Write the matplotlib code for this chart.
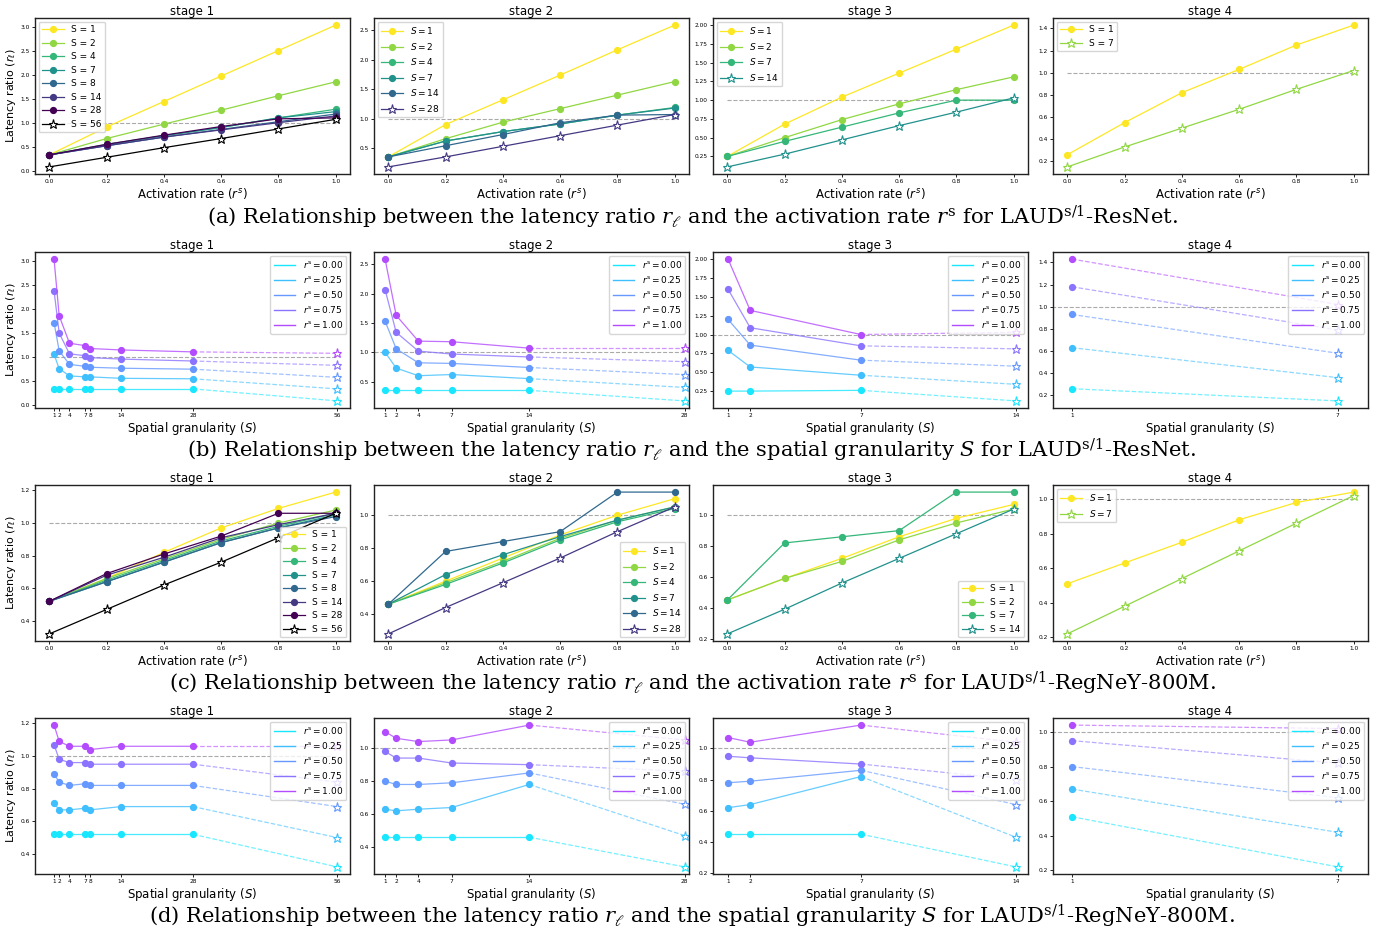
import numpy as np
import matplotlib
matplotlib.use("Agg")
import matplotlib.pyplot as plt
from matplotlib.lines import Line2D

# ---------------- data ----------------
rate_x = [0.0, 0.2, 0.4, 0.6, 0.8, 1.0]
rs_levels = [0.00, 0.25, 0.50, 0.75, 1.00]
stage_titles = ["stage 1", "stage 2", "stage 3", "stage 4"]

resnet_S = [[1, 2, 4, 7, 8, 14, 28, 56], [1, 2, 4, 7, 14, 28], [1, 2, 7, 14], [1, 7]]
regnet_S = [[1, 2, 4, 7, 8, 14, 28, 56], [1, 2, 4, 7, 14, 28], [1, 2, 7, 14], [1, 7]]

# (a) ResNet: latency ratio vs activation rate, one row per S
resnet_rate_st1 = [[0.33, 0.91, 1.44, 1.97, 2.50, 3.03],
                   [0.33, 0.67, 0.97, 1.26, 1.56, 1.85],
                   [0.33, 0.55, 0.73, 0.90, 1.10, 1.28],
                   [0.33, 0.54, 0.73, 0.90, 1.10, 1.23],
                   [0.33, 0.52, 0.70, 0.86, 1.02, 1.18],
                   [0.33, 0.52, 0.70, 0.85, 1.00, 1.14],
                   [0.33, 0.55, 0.74, 0.92, 1.08, 1.10],
                   [0.08, 0.28, 0.48, 0.67, 0.87, 1.07]]
resnet_rate_st2 = [[0.35, 0.90, 1.32, 1.74, 2.17, 2.59],
                   [0.35, 0.66, 0.94, 1.17, 1.40, 1.63],
                   [0.35, 0.62, 0.78, 0.91, 1.06, 1.19],
                   [0.35, 0.62, 0.78, 0.91, 1.06, 1.18],
                   [0.35, 0.54, 0.73, 0.93, 1.06, 1.07],
                   [0.18, 0.35, 0.53, 0.71, 0.89, 1.07]]
resnet_rate_st3 = [[0.25, 0.68, 1.04, 1.36, 1.68, 2.00],
                   [0.25, 0.50, 0.74, 0.95, 1.14, 1.31],
                   [0.25, 0.45, 0.64, 0.83, 1.00, 1.00],
                   [0.11, 0.28, 0.47, 0.66, 0.84, 1.03]]
resnet_rate_st4 = [[0.26, 0.55, 0.82, 1.03, 1.25, 1.43],
                   [0.15, 0.33, 0.50, 0.67, 0.85, 1.02]]

# (b) ResNet: latency ratio vs spatial granularity, one row per activation rate
resnet_gran_st1 = [[0.33, 0.33, 0.33, 0.33, 0.33, 0.33, 0.33, 0.08],
                   [1.05, 0.75, 0.60, 0.58, 0.58, 0.55, 0.54, 0.33],
                   [1.71, 1.12, 0.84, 0.80, 0.78, 0.76, 0.74, 0.57],
                   [2.37, 1.49, 1.06, 1.02, 0.98, 0.95, 0.91, 0.82],
                   [3.03, 1.85, 1.28, 1.23, 1.17, 1.14, 1.10, 1.07]]
resnet_gran_st2 = [[0.35, 0.35, 0.35, 0.35, 0.35, 0.17],
                   [1.00, 0.73, 0.60, 0.62, 0.55, 0.40],
                   [1.53, 1.06, 0.82, 0.81, 0.74, 0.62],
                   [2.07, 1.34, 1.02, 0.97, 0.92, 0.84],
                   [2.59, 1.63, 1.19, 1.18, 1.07, 1.07]]
resnet_gran_st3 = [[0.25, 0.25, 0.26, 0.12],
                   [0.79, 0.57, 0.46, 0.34],
                   [1.20, 0.86, 0.66, 0.58],
                   [1.60, 1.09, 0.85, 0.81],
                   [2.00, 1.32, 1.00, 1.03]]
resnet_gran_st4 = [[0.26, 0.15],
                   [0.63, 0.36],
                   [0.93, 0.58],
                   [1.18, 0.79],
                   [1.43, 1.02]]

# (c) RegNetY-800M: latency ratio vs activation rate
regnet_rate_st1 = [[0.52, 0.66, 0.82, 0.97, 1.09, 1.19],
                   [0.52, 0.66, 0.78, 0.90, 1.00, 1.08],
                   [0.52, 0.65, 0.77, 0.89, 0.98, 1.06],
                   [0.52, 0.64, 0.76, 0.88, 0.97, 1.05],
                   [0.52, 0.64, 0.76, 0.88, 0.97, 1.04],
                   [0.52, 0.68, 0.79, 0.91, 0.99, 1.06],
                   [0.52, 0.69, 0.81, 0.92, 1.06, 1.06],
                   [0.32, 0.47, 0.62, 0.76, 0.91, 1.06]]
regnet_rate_st2 = [[0.46, 0.60, 0.74, 0.88, 1.00, 1.10],
                   [0.46, 0.59, 0.72, 0.86, 0.97, 1.05],
                   [0.46, 0.58, 0.71, 0.85, 0.96, 1.04],
                   [0.46, 0.64, 0.76, 0.87, 0.97, 1.05],
                   [0.46, 0.78, 0.84, 0.90, 1.14, 1.14],
                   [0.28, 0.44, 0.59, 0.74, 0.90, 1.05]]
regnet_rate_st3 = [[0.45, 0.59, 0.72, 0.86, 0.98, 1.07],
                   [0.45, 0.59, 0.70, 0.84, 0.95, 1.04],
                   [0.45, 0.82, 0.86, 0.90, 1.15, 1.15],
                   [0.23, 0.39, 0.56, 0.72, 0.88, 1.04]]
regnet_rate_st4 = [[0.51, 0.63, 0.75, 0.88, 0.98, 1.04],
                   [0.22, 0.38, 0.54, 0.70, 0.86, 1.02]]

# (d) RegNetY-800M: latency ratio vs spatial granularity
regnet_gran_st1 = [[0.52, 0.52, 0.52, 0.52, 0.52, 0.52, 0.52, 0.32],
                   [0.71, 0.67, 0.67, 0.68, 0.67, 0.69, 0.69, 0.50],
                   [0.89, 0.84, 0.82, 0.83, 0.82, 0.82, 0.82, 0.69],
                   [1.07, 0.98, 0.96, 0.96, 0.95, 0.95, 0.95, 0.84],
                   [1.19, 1.09, 1.06, 1.06, 1.04, 1.06, 1.06, 1.06]]
regnet_gran_st2 = [[0.46, 0.46, 0.46, 0.46, 0.46, 0.28],
                   [0.63, 0.62, 0.63, 0.64, 0.78, 0.47],
                   [0.80, 0.78, 0.78, 0.79, 0.85, 0.66],
                   [0.98, 0.94, 0.94, 0.91, 0.90, 0.86],
                   [1.10, 1.06, 1.04, 1.05, 1.14, 1.05]]
regnet_gran_st3 = [[0.45, 0.45, 0.45, 0.24],
                   [0.62, 0.64, 0.82, 0.43],
                   [0.78, 0.79, 0.86, 0.64],
                   [0.95, 0.94, 0.90, 0.80],
                   [1.07, 1.04, 1.15, 1.04]]
regnet_gran_st4 = [[0.51, 0.22],
                   [0.67, 0.42],
                   [0.80, 0.62],
                   [0.95, 0.82],
                   [1.04, 1.02]]

captions = [
    r"(a) Relationship between the latency ratio $r_\ell$ and the activation rate $r^{\mathrm{s}}$ for LAUD$^{\mathrm{s}/1}$-ResNet.",
    r"(b) Relationship between the latency ratio $r_\ell$ and the spatial granularity $S$ for LAUD$^{\mathrm{s}/1}$-ResNet.",
    r"(c) Relationship between the latency ratio $r_\ell$ and the activation rate $r^{\mathrm{s}}$ for LAUD$^{\mathrm{s}/1}$-RegNeY-800M.",
    r"(d) Relationship between the latency ratio $r_\ell$ and the spatial granularity $S$ for LAUD$^{\mathrm{s}/1}$-RegNeY-800M.",
]

# ---------------- style ----------------
W, H = 1384, 932
fig = plt.figure(figsize=(W / 100, H / 100), dpi=100)
plt.rcParams["font.family"] = ["DejaVu Sans"]

VIR = [plt.cm.viridis(v) for v in np.linspace(1, 0, 7)]
COOL = [plt.cm.cool(v) for v in np.linspace(0.1, 0.7, 5)]
REF = "#aaaaaa"

col_left = [35, 374, 713, 1053]
col_w = 315
row_top = [18, 252, 485, 718]
row_h = 156
cap_y = [217, 450, 683, 916]
gran_xlim = [(-2.7, 58.5), (0.0, 28.4), (0.32, 14.54), (0.57, 7.68)]


def make_ax(r, c):
    rect = [col_left[c] / W, 1 - (row_top[r] + row_h) / H, col_w / W, row_h / H]
    ax = fig.add_axes(rect)
    ax.tick_params(labelsize=4.2, length=2.2, width=0.6, pad=1.5)
    for sp in ax.spines.values():
        sp.set_linewidth(1.0)
        sp.set_color("#222222")
    ax.set_title(stage_titles[c], fontsize=8.5, pad=2)
    if c == 0:
        ax.set_ylabel(r"Latency ratio ($r_\ell$)", fontsize=8, labelpad=2)
    return ax


def rate_panel(ax, S_list, vals, loc, upright, xlabel=r"Activation rate ($r^{s}$)"):
    n = len(S_list)
    for i, (S, ys) in enumerate(zip(S_list, vals)):
        last = i == n - 1
        color = "k" if (last and i >= 7) else VIR[i]
        lab = ("S = %d" % S) if upright else (r"$S = %d$" % S)
        if last:
            ax.plot(rate_x, ys, "-", color=color, lw=0.9, marker="*", ms=6.5,
                    mfc="white", mec=color, mew=0.8, label=lab)
        else:
            ax.plot(rate_x, ys, "-", color=color, lw=0.9, marker="o", ms=4.2, label=lab)
    ax.plot([0, 1], [1, 1], "--", color=REF, lw=0.8, zorder=0)
    ax.set_xticks(rate_x)
    ax.set_xlabel(xlabel, fontsize=8.5, labelpad=1)
    ax.legend(loc=loc, fontsize=6.5, handlelength=2.4, labelspacing=0.5,
              borderpad=0.4, handletextpad=0.8, borderaxespad=0.4)


def gran_panel(ax, S_list, vals, xlim):
    for j, ys in enumerate(vals):
        c = COOL[j]
        if len(S_list) > 2:
            ax.plot(S_list[:-1], ys[:-1], "-", color=c, lw=0.9, alpha=0.8)
        ax.plot(S_list[:-1], ys[:-1], "o", color=c, ms=4.2, lw=0)
        ax.plot(S_list[-2:], ys[-2:], "--", color=c, lw=0.9, alpha=0.6)
        ax.plot(S_list[-1], ys[-1], "*", ms=6.5, mfc="white", mec=c, mew=0.8)
    ax.plot([0, S_list[-1]], [1, 1], "--", color=REF, lw=0.8, zorder=0)
    ax.set_xlim(*xlim)
    ax.set_xticks(S_list)
    ax.set_xlabel(r"Spatial granularity ($S$)", fontsize=8.5, labelpad=1)
    handles = [Line2D([], [], color=COOL[j], lw=1.0) for j in range(5)]
    labels = [r"$r^{\mathrm{s}} = %.2f$" % v for v in rs_levels]
    ax.legend(handles, labels, loc="upper right", fontsize=6.5, handlelength=2.4,
              labelspacing=0.45, borderpad=0.4, handletextpad=0.8, borderaxespad=0.4)


rate_rows = {0: ([resnet_rate_st1, resnet_rate_st2, resnet_rate_st3, resnet_rate_st4], resnet_S,
                 ["upper left"] * 4, [True, False, False, True]),
             2: ([regnet_rate_st1, regnet_rate_st2, regnet_rate_st3, regnet_rate_st4], regnet_S,
                 ["lower right", "lower right", "lower right", "upper left"], [True, False, True, False])}
gran_rows = {1: ([resnet_gran_st1, resnet_gran_st2, resnet_gran_st3, resnet_gran_st4], resnet_S),
             3: ([regnet_gran_st1, regnet_gran_st2, regnet_gran_st3, regnet_gran_st4], regnet_S)}

for r in range(4):
    for c in range(4):
        ax = make_ax(r, c)
        if r in rate_rows:
            vals, Ss, locs, ups = rate_rows[r]
            rate_panel(ax, Ss[c], vals[c], locs[c], ups[c])
        else:
            vals, Ss = gran_rows[r]
            gran_panel(ax, Ss[c], vals[c], gran_xlim[c])

for r in range(4):
    fig.text(692 / W, 1 - cap_y[r] / H, captions[r], ha="center", va="center",
             fontsize=15.1, family="DejaVu Serif", math_fontfamily="dejavuserif")

fig.savefig("out.png", dpi=100)
